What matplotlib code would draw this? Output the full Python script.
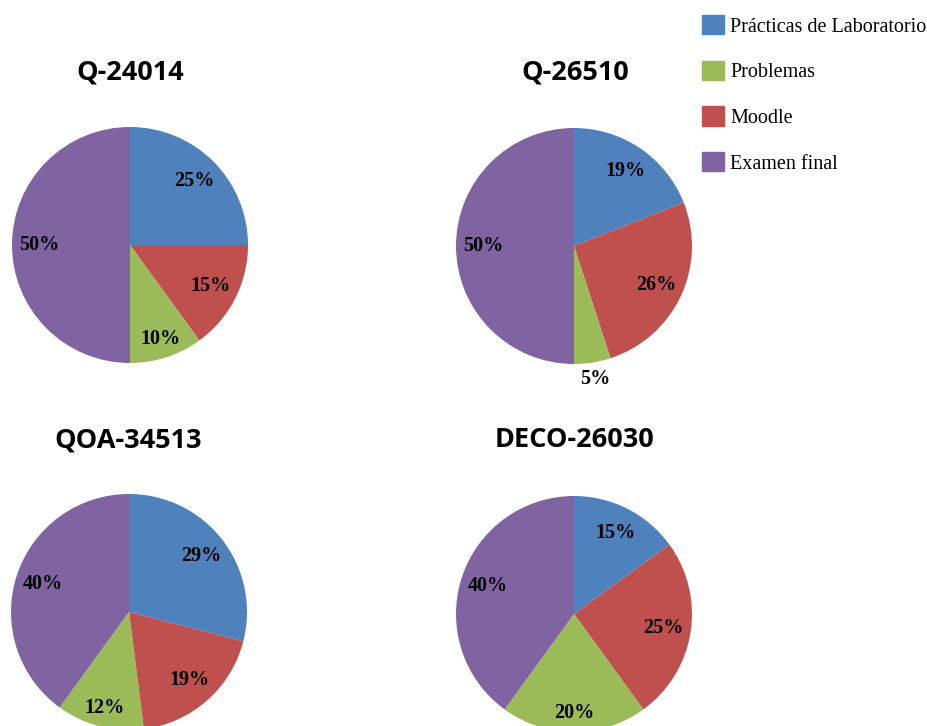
import numpy as np
import matplotlib
matplotlib.use("Agg")
import matplotlib.pyplot as plt
from matplotlib.patches import Patch

# Share of each assessment item per subject (%), wedges go clockwise from 12 o'clock
subjects = ["Q-24014", "Q-26510", "QOA-34513", "DECO-26030"]
practicas = [25, 19, 29, 15]
moodle = [15, 26, 19, 25]
problemas = [10, 5, 12, 20]
examen = [50, 50, 40, 40]

legend_labels = ["Prácticas de Laboratorio", "Problemas", "Moodle", "Examen final"]

# Office 2007 palette
c_blue = "#4F81BD"
c_red = "#C0504D"
c_green = "#9BBB59"
c_purple = "#8064A2"

W, H = 928, 726
fig = plt.figure(figsize=(W / 100, H / 100), dpi=100)

R = 118  # pie radius in pixels
centers = [(130, 245), (574, 246), (129, 612), (574, 614)]
title_pos = [(130, 73), (575, 73), (128, 440), (575, 440)]

for i, name in enumerate(subjects):
    cx, cy = centers[i]
    ax = fig.add_axes([(cx - R) / W, 1 - (cy + R) / H, 2 * R / W, 2 * R / H])
    vals = [practicas[i], moodle[i], problemas[i], examen[i]]
    wedges, _, autotexts = ax.pie(
        vals,
        colors=[c_blue, c_red, c_green, c_purple],
        startangle=90,
        counterclock=False,
        autopct="%1.0f%%",
        pctdistance=0.77,
        textprops=dict(family="Liberation Serif", fontweight="bold",
                       fontsize=14.5, color="black"),
        wedgeprops=dict(linewidth=0),
    )
    # small slices get their label outside the pie, like Excel does
    for w, t, v in zip(wedges, autotexts, vals):
        ang = np.deg2rad((w.theta1 + w.theta2) / 2)
        if v < 8:
            t.set_position((1.14 * np.cos(ang), 1.14 * np.sin(ang)))
        elif np.sin(ang) < -0.8:
            t.set_position((0.84 * np.cos(ang), 0.84 * np.sin(ang)))
    ax.set_xlim(-1, 1)
    ax.set_ylim(-1, 1)
    ax.set_aspect("equal")
    ax.axis("off")

    tx, ty = title_pos[i]
    fig.text(tx / W, 1 - ty / H, name, ha="center", va="center",
             family="Open Sans", fontweight="bold", fontsize=19.5)

handles = [Patch(color=c) for c in [c_blue, c_green, c_red, c_purple]]
fig.legend(handles, legend_labels, loc="upper left",
           bbox_to_anchor=(702 / W, 1 - 15 / H), frameon=False,
           prop=dict(family="Liberation Serif", size=14.5),
           handlelength=1.1, handleheight=1.1, handletextpad=0.3,
           labelspacing=1.2, borderpad=0, borderaxespad=0)

fig.savefig("out.png", dpi=100)
